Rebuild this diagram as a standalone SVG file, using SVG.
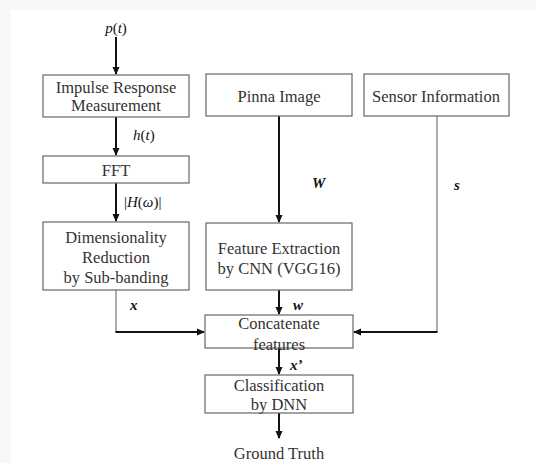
<svg xmlns="http://www.w3.org/2000/svg" width="536" height="463" viewBox="0 0 536 463">
<defs>
<marker id="ah" markerWidth="8" markerHeight="8" refX="7" refY="4" orient="auto" markerUnits="userSpaceOnUse">
<path d="M0,0.5 L8,4 L0,7.5 Z" fill="#111"/>
</marker>
<style>
.box{fill:#fff;stroke:#666;stroke-width:1.2}
.t{font-family:"Liberation Serif","Times New Roman",serif;font-size:16.5px;fill:#333;text-anchor:middle}
.lb{font-family:"Liberation Serif","Times New Roman",serif;font-size:15px;fill:#111;font-style:italic}
.u{font-style:normal}
.b{font-weight:bold}
.a{stroke:#111;stroke-width:2;fill:none}
.g{stroke:#777;stroke-width:1.2;fill:none}
</style>
</defs>
<rect x="0" y="0" width="536" height="463" fill="#f8f8f8"/>
<rect x="11" y="10" width="525" height="453" fill="#fff"/>
<g id="connectors">
<line class="a" x1="116" y1="37" x2="116" y2="74" marker-end="url(#ah)"/>
<line class="a" x1="116" y1="117" x2="116" y2="155" marker-end="url(#ah)"/>
<line class="a" x1="116" y1="183" x2="116" y2="221" marker-end="url(#ah)"/>
<line class="a" x1="279" y1="116" x2="279" y2="222" marker-end="url(#ah)"/>
<polyline class="g" points="116,290 116,332"/>
<line class="a" x1="115.5" y1="332" x2="204" y2="332" marker-end="url(#ah)"/>
<polyline class="g" points="437,116 437,332"/>
<line class="a" x1="437.5" y1="332" x2="354" y2="332" marker-end="url(#ah)"/>
<line class="a" x1="279" y1="290" x2="279" y2="314" marker-end="url(#ah)"/>
<line class="a" x1="279" y1="348" x2="279" y2="374" marker-end="url(#ah)"/>
<line class="a" x1="279" y1="413" x2="279" y2="438" marker-end="url(#ah)"/>
</g>
<g id="labels">
<text class="lb" x="116" y="33" text-anchor="middle">p<tspan class="u">(</tspan>t<tspan class="u">)</tspan></text>
<text class="lb" x="133" y="140">h<tspan class="u">(</tspan>t<tspan class="u">)</tspan></text>
<text class="lb" x="124" y="207"><tspan class="u">|</tspan>H<tspan class="u">(</tspan>ω<tspan class="u">)|</tspan></text>
<text class="lb b" x="312" y="188">W</text>
<text class="lb b" x="454" y="190">s</text>
<text class="lb b" x="130" y="310">x</text>
<text class="lb b" x="293" y="310">w</text>
<text class="lb b" x="290" y="370">x’</text>
</g>
<g id="irm"><rect class="box" x="43" y="75" width="146" height="42"/><text class="t" x="116" y="93">Impulse Response</text><text class="t" x="116" y="111">Measurement</text></g>
<g id="fft"><rect class="box" x="43" y="156" width="146" height="27"/><text class="t" x="116" y="176">FFT</text></g>
<g id="dr"><rect class="box" x="43" y="222" width="146" height="68"/><text class="t" x="116" y="243">Dimensionality</text><text class="t" x="116" y="263">Reduction</text><text class="t" x="116" y="283">by Sub-banding</text></g>
<g id="pinna"><rect class="box" x="206" y="74" width="146" height="42"/><text class="t" x="279" y="102">Pinna Image</text></g>
<g id="sensor"><rect class="box" x="364" y="74" width="145" height="42"/><text class="t" x="436" y="102">Sensor Information</text></g>
<g id="fe"><rect class="box" x="206" y="223" width="146" height="67"/><text class="t" x="279" y="254">Feature Extraction</text><text class="t" x="279" y="274">by CNN (VGG16)</text></g>
<g id="concat"><rect class="box" x="205" y="315" width="148" height="33"/><text class="t" x="279" y="329">Concatenate</text><text class="t" x="279" y="350">features</text></g>
<g id="classif"><rect class="box" x="205" y="375" width="148" height="38"/><text class="t" x="279" y="391">Classification</text><text class="t" x="279" y="410">by DNN</text></g>
<g id="gt"><text class="t" x="279" y="459">Ground Truth</text></g>
</svg>
